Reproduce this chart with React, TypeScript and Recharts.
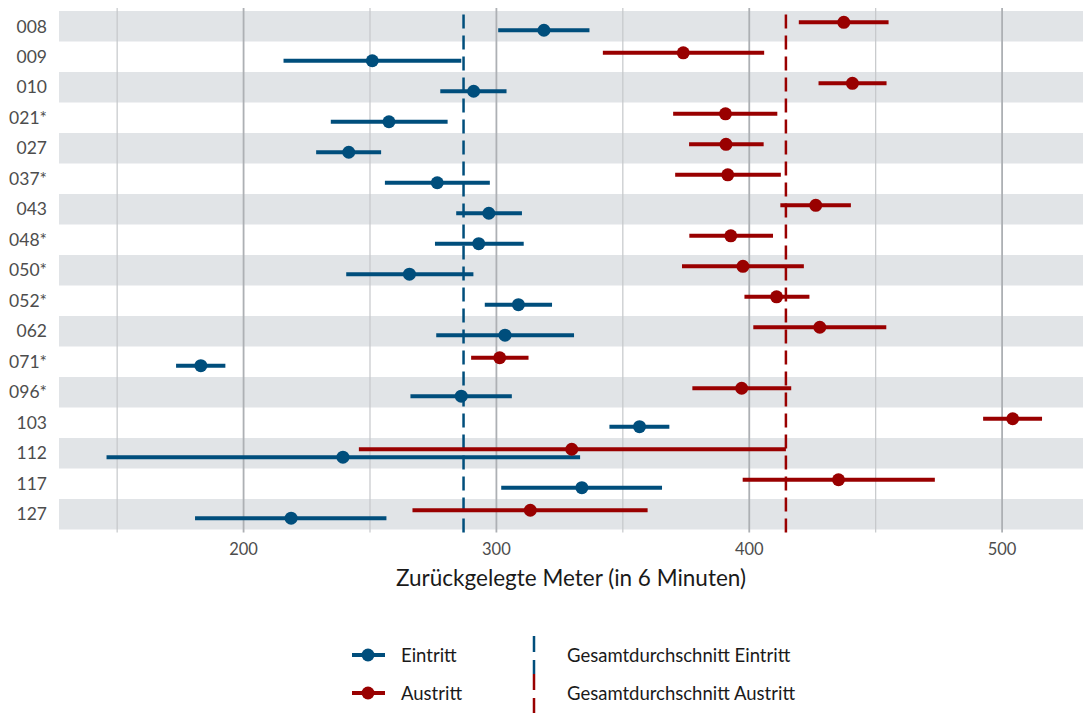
import React from "react";
import {
  ScatterChart,
  Scatter,
  XAxis,
  YAxis,
  ErrorBar,
  ReferenceArea,
  ReferenceLine,
} from "recharts";

// Teilnehmer (Kategorien)
const labels = ["008", "009", "010", "021*", "027", "037*", "043", "048*", "050*", "052*", "062", "071*", "096*", "103", "112", "117", "127"];

// Eintritt: Mittelwert + Intervall
const eintrittMean = [318.8, 250.9, 291.0, 257.5, 241.6, 276.6, 297.0, 293.0, 265.6, 308.7, 303.4, 183.1, 286.1, 356.6, 239.3, 333.8, 218.8];
const eintrittLow = [300.7, 215.8, 277.8, 234.5, 228.7, 255.9, 284.1, 275.7, 240.6, 295.4, 276.2, 173.3, 266.0, 344.7, 145.8, 301.9, 180.8];
const eintrittHigh = [336.8, 286.1, 304.0, 280.7, 254.4, 297.4, 310.1, 310.8, 290.9, 322.0, 330.7, 192.8, 306.1, 368.4, 333.1, 365.5, 256.5];

// Austritt: Mittelwert + Intervall
const austrittMean = [437.4, 373.9, 440.8, 390.6, 390.8, 391.5, 426.3, 392.7, 397.5, 410.8, 427.9, 301.3, 397.0, 504.2, 329.8, 435.3, 313.4];
const austrittLow = [419.6, 342.1, 427.4, 369.9, 376.2, 370.7, 412.3, 376.3, 373.4, 398.1, 401.6, 290.0, 377.5, 492.5, 245.6, 397.4, 266.8];
const austrittHigh = [455.1, 405.9, 454.3, 411.1, 405.7, 412.5, 440.2, 409.4, 421.6, 423.8, 454.2, 312.7, 416.6, 515.8, 414.5, 473.4, 359.8];

// Gesamtdurchschnitte
const meanEintritt = 287.0;
const meanAustritt = 414.5;

const xTicks = [200, 300, 400, 500];
const majorGrid = [200, 300, 400, 500];
const minorGrid = [150, 250, 350, 450];

const BLUE = "#004e7c";
const RED = "#990000";
const FONT = "Lato, 'Noto Sans', sans-serif";
const DODGE = 0.13;

const eintrittData = labels.map((_, i) => ({
  x: eintrittMean[i],
  y: i + DODGE,
  err: [eintrittMean[i] - eintrittLow[i], eintrittHigh[i] - eintrittMean[i]],
}));
const austrittData = labels.map((_, i) => ({
  x: austrittMean[i],
  y: i - DODGE,
  err: [austrittMean[i] - austrittLow[i], austrittHigh[i] - austrittMean[i]],
}));

const dot = (color: string) => (props: any) => (
  <circle cx={props.cx} cy={props.cy} r={6.5} fill={color} />
);

const LegendBox = () => (
  <svg width={1083} height={93} style={{ position: "absolute", left: 0, top: 620 }}>
    <g fontFamily={FONT} fontSize={18.5} fill="#1a1a1a">
      <line x1={352} x2={385} y1={35} y2={35} stroke={BLUE} strokeWidth={4} />
      <circle cx={368} cy={35} r={6.5} fill={BLUE} />
      <text x={401} y={35} dominantBaseline="central">Eintritt</text>
      <line x1={352} x2={385} y1={73} y2={73} stroke={RED} strokeWidth={4} />
      <circle cx={368} cy={73} r={6.5} fill={RED} />
      <text x={401} y={73} dominantBaseline="central">Austritt</text>
      <line x1={534} x2={534} y1={16} y2={54} stroke={BLUE} strokeWidth={2.5} strokeDasharray="16 8" />
      <line x1={534} x2={534} y1={54} y2={93} stroke={RED} strokeWidth={2.5} strokeDasharray="16 8" />
      <text x={567} y={35} dominantBaseline="central">Gesamtdurchschnitt Eintritt</text>
      <text x={567} y={73} dominantBaseline="central">Gesamtdurchschnitt Austritt</text>
    </g>
  </svg>
);

export default function App() {
  return (
    <div style={{ position: "absolute", left: 0, top: 0, width: 1083, height: 713 }}>
      <ScatterChart
        width={1083}
        height={713}
        margin={{ top: 8, right: 0, bottom: 120.5, left: 0 }}
        style={{ fontFamily: FONT }}
      >
        <XAxis
          type="number"
          dataKey="x"
          domain={[127, 532]}
          ticks={xTicks}
          axisLine={false}
          tickLine={false}
          tickSize={0}
          tickMargin={11}
          height={60}
          tick={{ fontSize: 16.5, fill: "#4d4d4d" }}
          label={{ value: "Zurückgelegte Meter (in 6 Minuten)", position: "insideBottom", offset: 7, fontSize: 22.5, fill: "#1a1a1a" }}
        />
        <YAxis
          type="number"
          dataKey="y"
          domain={[-0.6, 16.6]}
          reversed
          ticks={labels.map((_, i) => i)}
          tickFormatter={(v: number) => labels[v] ?? ""}
          interval={0}
          axisLine={false}
          tickLine={false}
          tickSize={0}
          tickMargin={12}
          width={59}
          tick={{ fontSize: 17.5, fill: "#4d4d4d" }}
        />
        {labels.map((_, i) =>
          i % 2 === 0 ? (
            <ReferenceArea key={"band" + i} y1={i - 0.5} y2={i + 0.5} fill="#e1e4e7" fillOpacity={1} stroke="none" />
          ) : null
        )}
        {minorGrid.map((v) => (
          <ReferenceLine key={"mi" + v} x={v} stroke="#c5c7ca" strokeWidth={1.2} />
        ))}
        {majorGrid.map((v) => (
          <ReferenceLine key={"ma" + v} x={v} stroke="#adb0b4" strokeWidth={1.8} />
        ))}
        <ReferenceLine x={meanEintritt} stroke={BLUE} strokeWidth={2.5} strokeDasharray="14 7" />
        <ReferenceLine x={meanAustritt} stroke={RED} strokeWidth={2.5} strokeDasharray="14 7" />
        <Scatter data={eintrittData} shape={dot(BLUE)} isAnimationActive={false}>
          <ErrorBar dataKey="err" direction="x" width={0} strokeWidth={4} stroke={BLUE} />
        </Scatter>
        <Scatter data={austrittData} shape={dot(RED)} isAnimationActive={false}>
          <ErrorBar dataKey="err" direction="x" width={0} strokeWidth={4} stroke={RED} />
        </Scatter>
      </ScatterChart>
      <LegendBox />
    </div>
  );
}
